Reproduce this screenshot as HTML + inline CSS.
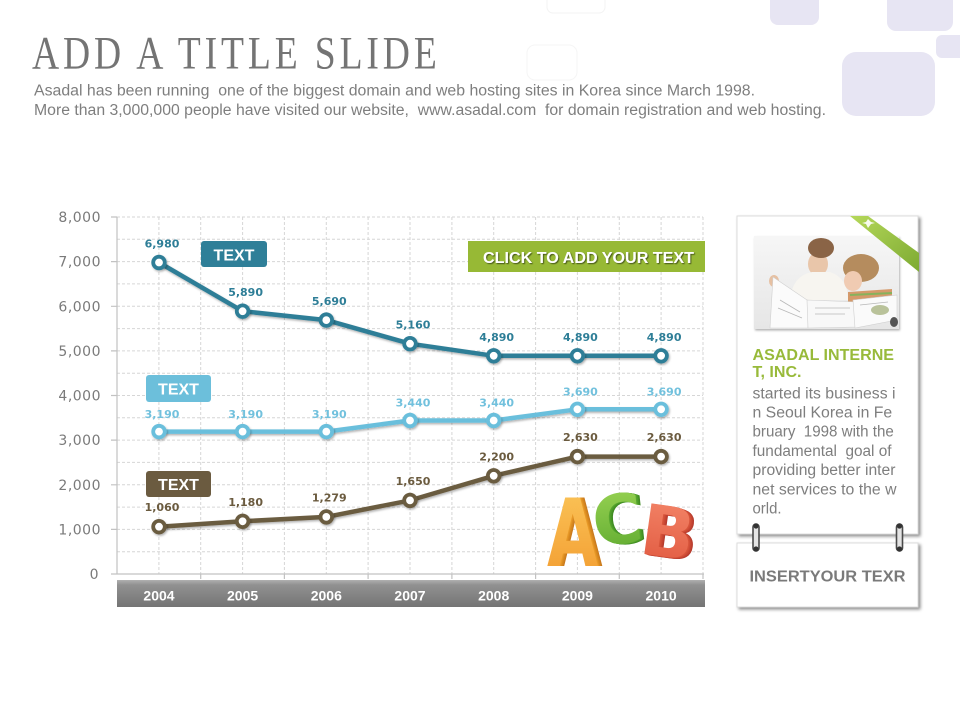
<!DOCTYPE html>
<html><head><meta charset="utf-8"><style>
html,body{margin:0;padding:0;background:#fff;}
body{width:960px;height:720px;overflow:hidden;position:relative;}
svg{position:absolute;left:0;top:0;}
</style></head><body>
<svg width="960" height="720" viewBox="0 0 960 720" xmlns="http://www.w3.org/2000/svg">
<defs>
<filter id="sh" x="-10%" y="-10%" width="130%" height="130%"><feDropShadow dx="1" dy="1.5" stdDeviation="1" flood-color="#000" flood-opacity="0.3"/></filter>
<filter id="csh" x="-10%" y="-10%" width="130%" height="130%"><feDropShadow dx="2" dy="2" stdDeviation="1.5" flood-color="#000" flood-opacity="0.45"/></filter>
<filter id="tsh"><feDropShadow dx="1" dy="1" stdDeviation="0.6" flood-color="#000" flood-opacity="0.55"/></filter>
<linearGradient id="bar" x1="0" y1="0" x2="0" y2="1"><stop offset="0" stop-color="#b0b0b0"/><stop offset="0.18" stop-color="#919191"/><stop offset="1" stop-color="#747474"/></linearGradient>
<linearGradient id="rib" x1="0" y1="0" x2="1" y2="1"><stop offset="0" stop-color="#b5d85a"/><stop offset="1" stop-color="#7daa32"/></linearGradient>
<linearGradient id="ga" x1="0" y1="0" x2="0" y2="1"><stop offset="0" stop-color="#fbc65a"/><stop offset="1" stop-color="#f29a2e"/></linearGradient>
<linearGradient id="gc" x1="0" y1="0" x2="0" y2="1"><stop offset="0" stop-color="#9ad454"/><stop offset="1" stop-color="#5ca82e"/></linearGradient>
<linearGradient id="gb" x1="0" y1="0" x2="0" y2="1"><stop offset="0" stop-color="#f4876a"/><stop offset="1" stop-color="#e0573e"/></linearGradient>
<linearGradient id="ph" x1="0" y1="0" x2="0" y2="1"><stop offset="0" stop-color="#f6f6f6"/><stop offset="1" stop-color="#e6e6e6"/></linearGradient>
</defs>

<!-- decorative squares -->
<rect x="770" y="-12" width="49" height="37" rx="8" fill="#e7e5f3"/>
<rect x="887" y="-12" width="66" height="43" rx="9" fill="#e7e5f3"/>
<rect x="936" y="35" width="34" height="23" rx="6" fill="#e7e5f3"/>
<rect x="842" y="52" width="93" height="64" rx="14" fill="#e7e5f3"/>
<rect x="547" y="-6" width="58" height="19" rx="6" fill="none" stroke="#f3f3f3"/>
<rect x="527" y="45" width="50" height="35" rx="8" fill="none" stroke="#f5f5f5"/>

<!-- title -->
<g transform="scale(0.8,1)">
<text x="40" y="68.5" font-family="Liberation Serif, serif" font-size="47" fill="#747474" textLength="506" lengthAdjust="spacing" xml:space="preserve">ADD A TITLE SLIDE</text>
</g>
<text x="34" y="95.5" font-family="Liberation Sans, sans-serif" font-size="15.5" fill="#7e7e7e" textLength="721" lengthAdjust="spacingAndGlyphs" xml:space="preserve">Asadal has been running  one of the biggest domain and web hosting sites in Korea since March 1998.</text>
<text x="34" y="115" font-family="Liberation Sans, sans-serif" font-size="15.5" fill="#7e7e7e" textLength="792" lengthAdjust="spacingAndGlyphs" xml:space="preserve">More than 3,000,000 people have visited our website,  www.asadal.com  for domain registration and web hosting.</text>

<!-- grid -->
<g stroke="#d6d6d6" stroke-width="1" stroke-dasharray="3 2" fill="none">
<path d="M117 551.7H703M117 529.4H703M117 507.1H703M117 484.8H703M117 462.4H703M117 440.1H703M117 417.8H703M117 395.5H703M117 373.2H703M117 350.9H703M117 328.6H703M117 306.3H703M117 283.9H703M117 261.6H703M117 239.3H703M117 217H703"/>
<path d="M158.9 217V574M200.7 217V574M242.6 217V574M284.4 217V574M326.3 217V574M368.1 217V574M410 217V574M451.9 217V574M493.7 217V574M535.6 217V574M577.4 217V574M619.3 217V574M661.1 217V574M703 217V574"/>
</g>
<g stroke="#c2c2c2" stroke-width="1.2" fill="none">
<path d="M117 217V574M111 574H704"/>
<path d="M111 217H117M111 261.6H117M111 306.3H117M111 350.9H117M111 395.5H117M111 440.1H117M111 484.8H117M111 529.4H117"/>
<path d="M200.7 574V579M284.4 574V579M368.1 574V579M451.9 574V579M535.6 574V579M619.3 574V579M703 574V579"/>
</g>

<!-- y labels -->
<g font-family="DejaVu Sans, sans-serif" font-size="14" fill="#7a7a7a" text-anchor="end" letter-spacing="0.5">
<text x="101" y="222">8,000</text>
<text x="101" y="266.6">7,000</text>
<text x="101" y="311.3">6,000</text>
<text x="101" y="355.9">5,000</text>
<text x="101" y="400.5">4,000</text>
<text x="101" y="445.1">3,000</text>
<text x="101" y="489.8">2,000</text>
<text x="101" y="534.4">1,000</text>
<text x="99" y="579">0</text>
</g>

<!-- x bar -->
<rect x="117" y="580" width="588" height="27" fill="url(#bar)"/>
<g font-family="Liberation Sans, sans-serif" font-weight="bold" font-size="14" fill="#fff" text-anchor="middle">
<text x="159" y="600.5">2004</text><text x="242.6" y="600.5">2005</text><text x="326.3" y="600.5">2006</text><text x="410" y="600.5">2007</text><text x="493.7" y="600.5">2008</text><text x="577.4" y="600.5">2009</text><text x="661.1" y="600.5">2010</text>
</g>

<!-- tag boxes -->
<rect x="201" y="241" width="66" height="26" rx="3" fill="#2f7f98"/>
<rect x="146" y="375" width="65" height="27" rx="3" fill="#6cbfdb"/>
<rect x="146" y="471" width="65" height="26" rx="3" fill="#6b5b40"/>
<g font-family="Liberation Sans, sans-serif" font-weight="bold" font-size="16" fill="#fff" text-anchor="middle">
<text x="234" y="260.5">TEXT</text>
<text x="178.5" y="394.5">TEXT</text>
<text x="178.5" y="490">TEXT</text>
</g>
<rect x="468" y="241" width="237" height="31" fill="#97b935"/>
<text x="483" y="263" font-family="Liberation Sans, sans-serif" font-weight="bold" font-size="15.5" fill="#fff" textLength="211" lengthAdjust="spacingAndGlyphs" filter="url(#tsh)">CLICK TO ADD YOUR TEXT</text>

<!-- series -->
<g fill="none" stroke-linejoin="round" stroke-width="4.5" filter="url(#sh)">
<polyline stroke="#2e7e97" points="159,262.5 242.6,311.2 326.3,320.1 410,343.7 493.7,355.8 577.4,355.8 661.1,355.8"/>
<polyline stroke="#6bbfdc" points="159,431.6 242.6,431.6 326.3,431.6 410,420.5 493.7,420.5 577.4,409.3 661.1,409.3"/>
<polyline stroke="#6b5b3f" points="159,526.7 242.6,521.3 326.3,516.9 410,500.4 493.7,475.8 577.4,456.6 661.1,456.6"/>
</g>
<g fill="#fff" stroke-width="3.8" filter="url(#sh)">
<g stroke="#2e7e97"><circle cx="159" cy="262.5" r="5.8"/><circle cx="242.6" cy="311.2" r="5.8"/><circle cx="326.3" cy="320.1" r="5.8"/><circle cx="410" cy="343.7" r="5.8"/><circle cx="493.7" cy="355.8" r="5.8"/><circle cx="577.4" cy="355.8" r="5.8"/><circle cx="661.1" cy="355.8" r="5.8"/></g>
<g stroke="#6bbfdc"><circle cx="159" cy="431.6" r="5.8"/><circle cx="242.6" cy="431.6" r="5.8"/><circle cx="326.3" cy="431.6" r="5.8"/><circle cx="410" cy="420.5" r="5.8"/><circle cx="493.7" cy="420.5" r="5.8"/><circle cx="577.4" cy="409.3" r="5.8"/><circle cx="661.1" cy="409.3" r="5.8"/></g>
<g stroke="#6b5b3f"><circle cx="159" cy="526.7" r="5.8"/><circle cx="242.6" cy="521.3" r="5.8"/><circle cx="326.3" cy="516.9" r="5.8"/><circle cx="410" cy="500.4" r="5.8"/><circle cx="493.7" cy="475.8" r="5.8"/><circle cx="577.4" cy="456.6" r="5.8"/><circle cx="661.1" cy="456.6" r="5.8"/></g>
</g>

<!-- value labels -->
<g font-family="DejaVu Sans, sans-serif" font-weight="bold" font-size="11" text-anchor="middle">
<g fill="#2e7e97"><text x="162" y="247.5">6,980</text><text x="245.6" y="296.2">5,890</text><text x="329.3" y="305.1">5,690</text><text x="413" y="328.7">5,160</text><text x="496.7" y="340.8">4,890</text><text x="580.4" y="340.8">4,890</text><text x="664.1" y="340.8">4,890</text></g>
<g fill="#72c1dd"><text x="162" y="417.8">3,190</text><text x="245.6" y="417.8">3,190</text><text x="329.3" y="417.8">3,190</text><text x="413" y="406.5">3,440</text><text x="496.7" y="406.5">3,440</text><text x="580.4" y="395.3">3,690</text><text x="664.1" y="395.3">3,690</text></g>
<g fill="#6b5b3f"><text x="162" y="511">1,060</text><text x="245.6" y="505.8">1,180</text><text x="329.3" y="501.4">1,279</text><text x="413" y="484.9">1,650</text><text x="496.7" y="460.3">2,200</text><text x="580.4" y="441.1">2,630</text><text x="664.1" y="441.1">2,630</text></g>
</g>

<!-- ACB -->
<g font-family="DejaVu Sans, sans-serif" font-weight="bold">
<g transform="translate(547,566) scale(0.72,1.02)">
<text x="6" y="0" font-size="92" fill="#c97a1e">A</text><text x="4.5" y="0" font-size="92" fill="#d4851f">A</text><text x="3" y="0" font-size="92" fill="#dc8d22">A</text><text x="1.5" y="0" font-size="92" fill="#e89a28">A</text>
<text x="0" y="0" font-size="92" fill="url(#ga)">A</text>
</g>
<g transform="translate(595,546) rotate(-6)">
<text x="4" y="1" font-size="68" fill="#3f8a22">C</text><text x="3" y="0.7" font-size="68" fill="#479526">C</text><text x="2" y="0.4" font-size="68" fill="#4f9e2a">C</text><text x="1" y="0.2" font-size="68" fill="#58a62e">C</text>
<text x="0" y="0" font-size="68" fill="url(#gc)">C</text>
</g>
<g transform="translate(638,553) rotate(8)">
<text x="5" y="1" font-size="70" fill="#b53a2c">B</text><text x="4" y="0.8" font-size="70" fill="#bf4130">B</text><text x="3" y="0.6" font-size="70" fill="#c94834">B</text><text x="2" y="0.4" font-size="70" fill="#d14f38">B</text><text x="1" y="0.2" font-size="70" fill="#d8553b">B</text>
<text x="0" y="0" font-size="70" fill="url(#gb)">B</text>
</g>
</g>

<!-- right card -->
<rect x="737" y="216" width="181" height="318" fill="#fff" stroke="#dcdcdc" stroke-width="1" filter="url(#csh)"/>
<rect x="737" y="543" width="181" height="64" fill="#fff" stroke="#dcdcdc" stroke-width="1" filter="url(#csh)"/>

<!-- photo -->
<g>
<rect x="754" y="236" width="145" height="93" fill="url(#ph)" filter="url(#sh)"/>
<ellipse cx="818" cy="264" rx="10" ry="12" fill="#e9c6aa"/>
<ellipse cx="821" cy="248" rx="13" ry="10" fill="#8a6446"/>
<path d="M790 300 Q792 276 812 272 L830 272 Q848 278 848 300 Z" fill="#f7f5f0"/>
<ellipse cx="774" cy="281" rx="5" ry="6" fill="#e6c0a2"/>
<ellipse cx="861" cy="268" rx="18" ry="14" fill="#b58c5e"/>
<ellipse cx="853" cy="281" rx="9" ry="10" fill="#f0cbb2"/>
<path d="M848 292 L892 289 L892 302 L848 304 Z" fill="#d59a6a"/>
<path d="M850 295 L892 293" stroke="#86b25c" stroke-width="2"/>
<polygon points="773,277 810,302 808,328 770,328" fill="#fbfbfb" stroke="#d0d0d0" stroke-width="0.6"/>
<polygon points="807,300 857,302 857,327 808,328" fill="#f8f8f8" stroke="#d0d0d0" stroke-width="0.6"/>
<polygon points="853,300 897,295 897,320 855,328" fill="#fafafa" stroke="#d0d0d0" stroke-width="0.6"/>
<g stroke="#b8b8b8" stroke-width="0.8"><path d="M780 300 L800 312M778 308 L802 318M815 308H850M815 314H845M860 305 L888 302"/></g>
<ellipse cx="880" cy="310" rx="9" ry="5" fill="#b9c29a"/>
<ellipse cx="894" cy="322" rx="4" ry="5" fill="#555"/>
</g>
<polygon points="850,216 868,216 919,253 919,272" fill="url(#rib)"/>
<path d="M868 219 L871 222 L875 223 L871 224 L868 228 L866 224 L862 223 L866 222 Z" fill="#fff" opacity="0.9"/>

<text x="752.5" y="360" font-family="Liberation Sans, sans-serif" font-weight="bold" font-size="15.5" fill="#98ba3a" textLength="141.5" lengthAdjust="spacingAndGlyphs">ASADAL INTERNE</text>
<text x="752.5" y="377" font-family="Liberation Sans, sans-serif" font-weight="bold" font-size="15.5" fill="#98ba3a" textLength="49" lengthAdjust="spacingAndGlyphs">T, INC.</text>
<g font-family="Liberation Sans, sans-serif" font-size="15.5" fill="#7e7e7e">
<text x="752.5" y="398.3" textLength="143" lengthAdjust="spacingAndGlyphs">started its business i</text>
<text x="752.5" y="417.5" textLength="139.7" lengthAdjust="spacingAndGlyphs">n Seoul Korea in Fe</text>
<text x="752.5" y="436.7" textLength="141.3" lengthAdjust="spacingAndGlyphs" xml:space="preserve">bruary  1998 with the</text>
<text x="752.5" y="455.9" textLength="139" lengthAdjust="spacingAndGlyphs" xml:space="preserve">fundamental  goal of</text>
<text x="752.5" y="475.1" textLength="143" lengthAdjust="spacingAndGlyphs">providing better inter</text>
<text x="752.5" y="494.3" textLength="144" lengthAdjust="spacingAndGlyphs">net services to the w</text>
<text x="752.5" y="513.5" textLength="29" lengthAdjust="spacingAndGlyphs">orld.</text>
</g>
<text x="749.5" y="581.5" font-family="Liberation Sans, sans-serif" font-weight="bold" font-size="16" fill="#7a7a7a" textLength="156" lengthAdjust="spacingAndGlyphs">INSERTYOUR TEXR</text>

<!-- rings -->
<g>
<rect x="753" y="524" width="6" height="27" rx="3" fill="#e4e4e4" stroke="#4a4a4a" stroke-width="1.6"/>
<circle cx="756" cy="526" r="2.6" fill="#333"/><circle cx="756" cy="549" r="2.6" fill="#333"/>
<rect x="896.5" y="524" width="6" height="27" rx="3" fill="#e4e4e4" stroke="#4a4a4a" stroke-width="1.6"/>
<circle cx="899.5" cy="526" r="2.6" fill="#333"/><circle cx="899.5" cy="549" r="2.6" fill="#333"/>
</g>
</svg>
</body></html>
